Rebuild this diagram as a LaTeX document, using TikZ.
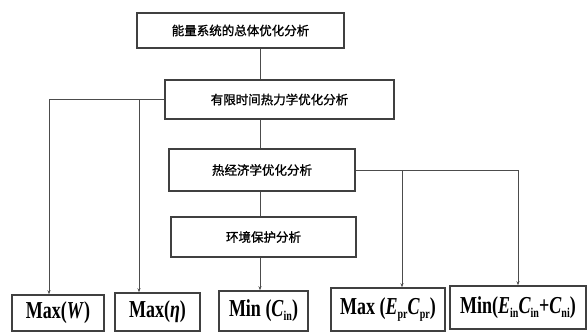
\documentclass[tikz,border=0pt]{standalone}
\usepackage{fontspec}
\setmainfont{Liberation Serif}
\newfontfamily\cjk[FakeBold=1.2]{Noto Sans CJK SC}
\usetikzlibrary{arrows.meta}
\newcommand{\lowidx}[1]{\raisebox{-0.35ex}{\fontsize{10}{10}\selectfont #1}}
\newcommand{\tallbox}[1]{\scalebox{1}[1.35]{#1}}

\begin{document}
\begin{tikzpicture}[x=1pt,y=-1pt,
	box/.style={draw=black!75,line width=1.5pt,inner sep=0pt,font=\cjk\fontsize{12.5}{14}\selectfont},
	res/.style={draw=black!75,line width=1.5pt,inner sep=0pt,font=\bfseries\fontsize{18}{18}\selectfont},
	conn/.style={draw=black!70,line width=0.9pt},
	arr/.style={conn,-{Stealth[length=4pt,width=3pt]}}]
	\useasboundingbox (0,0) rectangle (587,333);
	\node[box,minimum width=207pt,minimum height=35pt] (top) at (240.5,30.5) {能量系统的总体优化分析};
	\node[box,minimum width=229pt,minimum height=39pt] (fin) at (279.5,99.5) {有限时间热力学优化分析};
	\node[box,minimum width=186pt,minimum height=42pt] (eco) at (262,170) {热经济学优化分析};
	\node[box,minimum width=185pt,minimum height=40pt] (env) at (263.5,237) {环境保护分析};
	\node[res,minimum width=92pt,minimum height=36pt] (mw) at (58,313) {\tallbox{Max(\textit{W})}};
	\node[res,minimum width=85pt,minimum height=38pt] (meta) at (157.5,312) {\tallbox{Max(\textit{η})}};
	\node[res,minimum width=89pt,minimum height=40pt] (mcin) at (263.5,311) {\tallbox{Min (\textit{C}\lowidx{in})}};
	\node[res,minimum width=114pt,minimum height=43pt] (mepr) at (388,309.5) {\tallbox{Max (\textit{E}\lowidx{pr}\textit{C}\lowidx{pr})}};
	\node[res,minimum width=136pt,minimum height=43pt] (mein) at (518,307.5) {\tallbox{Min(\textit{E}\lowidx{in}\textit{C}\lowidx{in}+\textit{C}\lowidx{ni})}};
	\coordinate (spine) at (260,0);
	\coordinate (lft) at (139,0);
	\coordinate (rgt) at (402,0);
	\draw[conn] (top.south -| spine) -- (fin.north -| spine);
	\draw[conn] (fin.south -| spine) -- (eco.north -| spine);
	\draw[conn] (eco.south -| spine) -- (env.north -| spine);
	\draw[arr] (env.south -| spine) -- (mcin.north -| spine);
	\draw[arr] (fin.west) -| ([xshift=-9pt]mw.north);
	\draw[arr] (fin.west -| lft) -- (meta.north -| lft);
	\draw[arr] (eco.east) -| (mein.north);
	\draw[arr] (eco.east -| rgt) -- (mepr.north -| rgt);
\end{tikzpicture}
\end{document}
